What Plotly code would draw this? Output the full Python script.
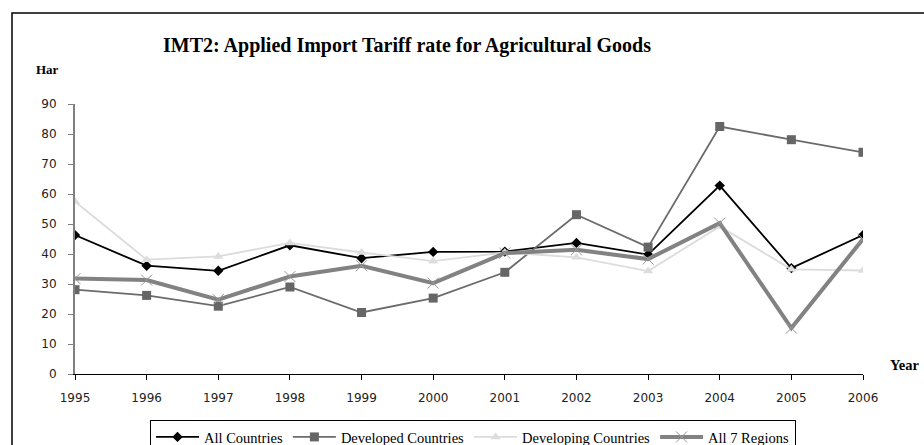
import plotly.graph_objects as go

years = [1995, 1996, 1997, 1998, 1999, 2000, 2001, 2002, 2003, 2004, 2005, 2006]
all_countries = [46.3, 36.1, 34.4, 42.9, 38.6, 40.7, 40.8, 43.7, 39.8, 62.8, 35.3, 46.3]
developed = [28.1, 26.2, 22.6, 29.0, 20.5, 25.3, 33.9, 53.1, 42.3, 82.5, 78.1, 73.9]
developing = [57.5, 38.1, 39.2, 43.7, 40.5, 37.6, 40.5, 38.9, 34.3, 49.2, 34.9, 34.5]
all_7_regions = [31.8, 31.3, 24.8, 32.5, 36.1, 30.3, 40.3, 41.4, 38.3, 50.3, 15.3, 45.0]

y_ticks = [0, 10, 20, 30, 40, 50, 60, 70, 80, 90]

fig = go.Figure()
fig.add_trace(go.Scatter(
    x=years, y=all_countries, name="All Countries", mode="lines+markers",
    line=dict(color="#000000", width=1.8),
    marker=dict(symbol="diamond", size=8, color="#000000"),
))
fig.add_trace(go.Scatter(
    x=years, y=developed, name="Developed Countries", mode="lines+markers",
    line=dict(color="#6b6b6b", width=1.8),
    marker=dict(symbol="square", size=9, color="#666666"),
))
fig.add_trace(go.Scatter(
    x=years, y=developing, name="Developing Countries", mode="lines+markers",
    line=dict(color="#dcdcdc", width=1.8),
    marker=dict(symbol="triangle-up", size=9, color="#dddddd"),
))
fig.add_trace(go.Scatter(
    x=years, y=all_7_regions, name="All 7 Regions", mode="lines+markers",
    line=dict(color="#828282", width=4),
    marker=dict(symbol="x-thin", size=11, color="#999999",
                line=dict(color="#999999", width=1)),
))

L, R, T, B = 75, 61, 104, 71
W, H = 924, 445
pw, ph = W - L - R, H - T - B

def px_x(p):
    return (p - L) / pw

def px_y(p):
    return (H - B - p) / ph

fig.update_layout(
    width=W, height=H,
    margin=dict(l=L, r=R, t=T, b=B, pad=0, autoexpand=False),
    paper_bgcolor="white", plot_bgcolor="white",
    title=dict(
        text="<b>IMT2: Applied Import Tariff rate for Agricultural Goods</b>",
        font=dict(family="Liberation Serif", size=20, color="#000000"),
        x=407 / W, xanchor="center", y=1 - 45 / H, yanchor="middle",
    ),
    xaxis=dict(
        range=[1995, 2006], tickmode="array", tickvals=years,
        ticks="outside", ticklen=5, tickcolor="#000000",
        showline=True, linecolor="#000000", linewidth=1,
        showgrid=False, zeroline=False, ticklabelstandoff=8,
        tickfont=dict(family="DejaVu Sans", size=12, color="#222222"),
    ),
    yaxis=dict(
        range=[0, 90], tickmode="array", tickvals=y_ticks,
        ticks="outside", ticklen=5, tickcolor="#808080",
        showline=True, linecolor="#808080", linewidth=2,
        showgrid=False, zeroline=False, ticklabelstandoff=9,
        tickfont=dict(family="DejaVu Sans", size=12, color="#222222"),
    ),
    showlegend=True,
    legend=dict(
        orientation="h", x=px_x(150), xanchor="left", y=px_y(420), yanchor="top",
        bordercolor="#000000", borderwidth=1, bgcolor="white",
        font=dict(family="Liberation Serif", size=14.5, color="#000000"),
        tracegroupgap=0, itemwidth=43,
    ),
    shapes=[
        dict(type="rect", xref="paper", yref="paper",
             x0=px_x(12), x1=px_x(940), y0=px_y(460), y1=px_y(13),
             line=dict(color="#000000", width=1.5), layer="below"),
    ],
    annotations=[
        dict(text="<b>Har</b>", xref="paper", yref="paper", x=px_x(34), y=px_y(70),
             xanchor="left", yanchor="middle", showarrow=False,
             font=dict(family="Liberation Serif", size=13, color="#000000")),
        dict(text="<b>Year</b>", xref="paper", yref="paper", x=px_x(888), y=px_y(365),
             xanchor="left", yanchor="middle", showarrow=False,
             font=dict(family="Liberation Serif", size=14.5, color="#000000")),
    ],
)

fig.write_html("out.html")
